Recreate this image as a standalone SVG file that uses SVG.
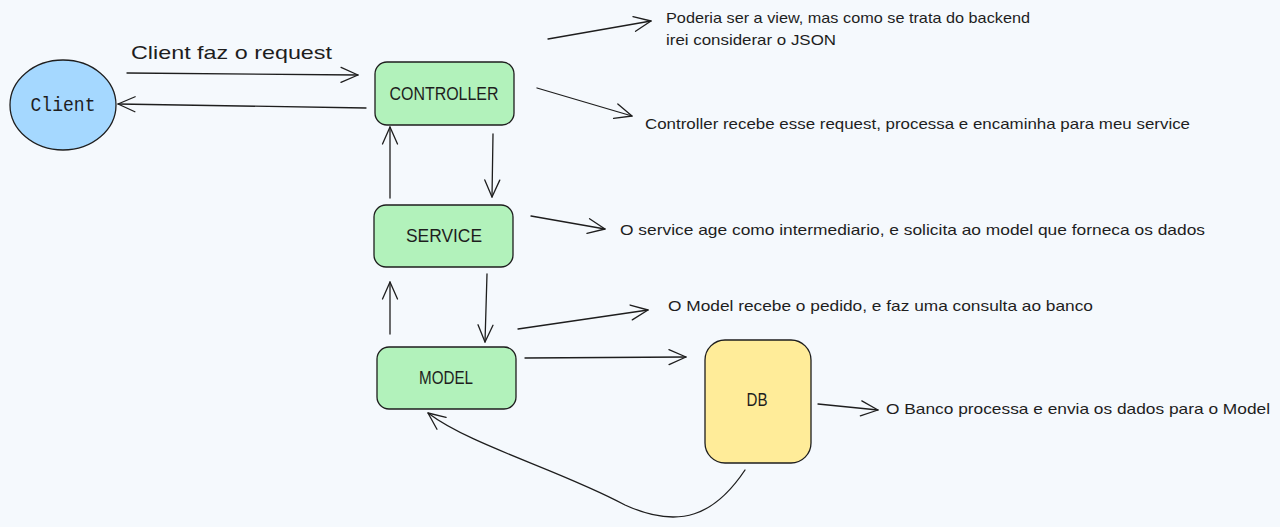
<svg xmlns="http://www.w3.org/2000/svg" width="1280" height="527" viewBox="0 0 1280 527">
<defs>
<style>
.bg{fill:#f5f9fd}
.node{stroke:#1e1e1e;stroke-width:1.3}
.lbl{font-family:"Liberation Sans",Arial,sans-serif;font-size:19px;fill:#1e1e1e;text-anchor:middle;dominant-baseline:central}
.ann{font-family:"Liberation Sans",Arial,sans-serif;font-size:15px;fill:#1e1e1e}
.edge{fill:none;stroke:#1e1e1e;stroke-width:1.3;stroke-linecap:round;marker-end:url(#arr)}
</style>
<marker id="arr" markerWidth="24" markerHeight="20" refX="20" refY="10" orient="auto" markerUnits="userSpaceOnUse" viewBox="0 0 24 20">
<path d="M3 2.5 L20 10 L3 17.5" fill="none" stroke="#1e1e1e" stroke-width="1.3" stroke-linecap="round" stroke-linejoin="round"/>
</marker>
</defs>
<rect class="bg" x="0" y="0" width="1280" height="527"/>

<g id="connectors">
<path class="edge" d="M127 73 L358 75"/>
<path class="edge" d="M366 108 L118 104"/>
<path class="edge" d="M493 134 L492 197"/>
<path class="edge" d="M390 198 L390 127"/>
<path class="edge" d="M487 274 L485 342"/>
<path class="edge" d="M390 334 L390 282"/>
<path class="edge" d="M525 358 L686 357"/>
<path class="edge" d="M745 470 C 715 515, 680 530, 625 505 C 560 470, 470 445, 428 413"/>
<path class="edge" d="M548 39 L651 21"/>
<path class="edge" d="M537 88 L632 116"/>
<path class="edge" d="M531 216 L605 229"/>
<path class="edge" d="M518 329 L648 310"/>
<path class="edge" d="M818 404 L878 410"/>
<text x="131" y="59" font-family="Liberation Sans,Arial,sans-serif" font-size="19" fill="#1e1e1e" textLength="201" lengthAdjust="spacingAndGlyphs">Client faz o request</text>
</g>

<g id="client">
<ellipse class="node" cx="63" cy="105" rx="53" ry="45" fill="#a5d8ff"/>
<text class="lbl" x="63" y="105" style="font-family:'Liberation Mono',monospace;font-size:20px" textLength="65" lengthAdjust="spacingAndGlyphs">Client</text>
</g>

<g id="controller">
<rect class="node" x="375" y="62" width="139" height="63" rx="12" fill="#b2f2bb"/>
<text class="lbl" x="444" y="93" textLength="109" lengthAdjust="spacingAndGlyphs">CONTROLLER</text>
</g>

<g id="service">
<rect class="node" x="374" y="205" width="139" height="62" rx="12" fill="#b2f2bb"/>
<text class="lbl" x="444" y="235" textLength="76" lengthAdjust="spacingAndGlyphs">SERVICE</text>
</g>

<g id="model">
<rect class="node" x="377" y="347" width="139" height="62" rx="12" fill="#b2f2bb"/>
<text class="lbl" x="446" y="377" textLength="54" lengthAdjust="spacingAndGlyphs">MODEL</text>
</g>

<g id="db">
<rect class="node" x="705" y="340" width="106" height="123" rx="20" fill="#ffec99"/>
<text class="lbl" x="757" y="399" textLength="21" lengthAdjust="spacingAndGlyphs">DB</text>
</g>

<g id="annotations">
<text class="ann" x="666" y="23" textLength="364" lengthAdjust="spacingAndGlyphs">Poderia ser a view, mas como se trata do backend</text>
<text class="ann" x="666" y="45" textLength="170" lengthAdjust="spacingAndGlyphs">irei considerar o JSON</text>
<text class="ann" x="645" y="129" textLength="545" lengthAdjust="spacingAndGlyphs">Controller recebe esse request, processa e encaminha para meu service</text>
<text class="ann" x="620" y="235" textLength="585" lengthAdjust="spacingAndGlyphs">O service age como intermediario, e solicita ao model que forneca os dados</text>
<text class="ann" x="668" y="311" textLength="425" lengthAdjust="spacingAndGlyphs">O Model recebe o pedido, e faz uma consulta ao banco</text>
<text class="ann" x="886" y="414" textLength="384" lengthAdjust="spacingAndGlyphs">O Banco processa e envia os dados para o Model</text>
</g>
</svg>
